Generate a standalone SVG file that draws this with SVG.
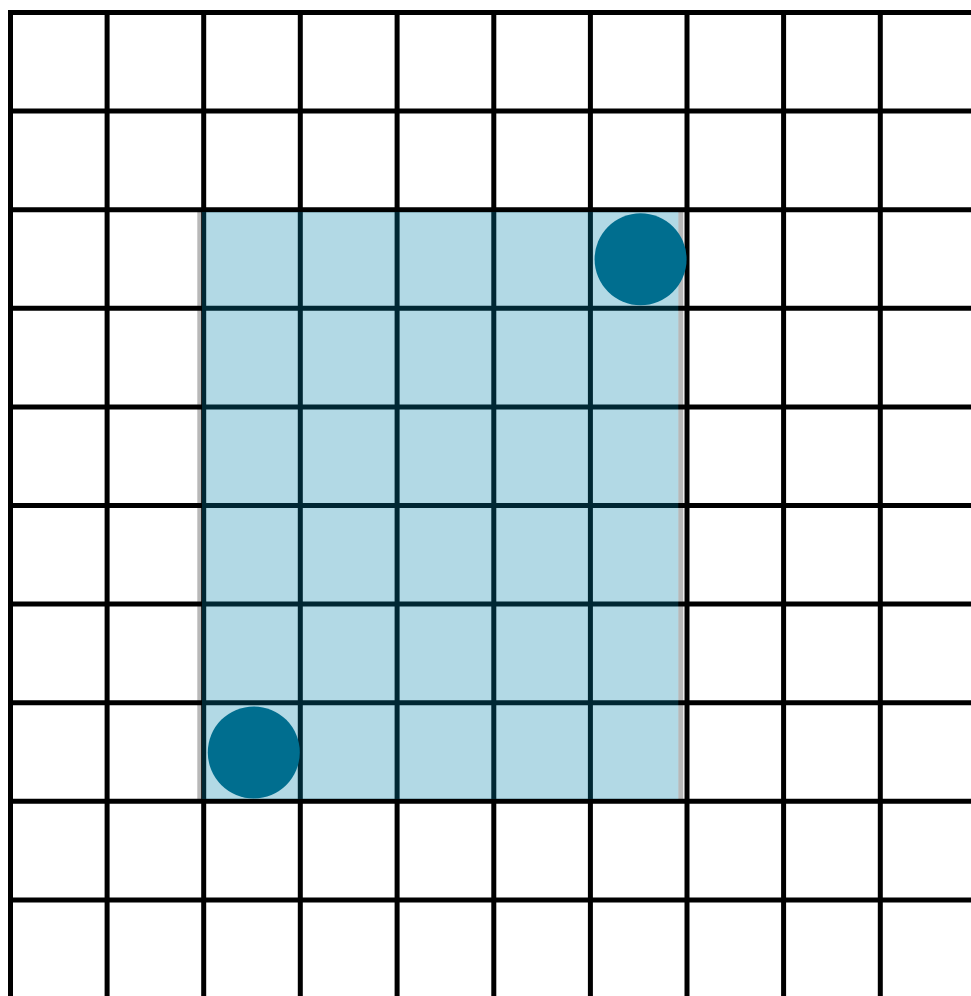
<svg xmlns="http://www.w3.org/2000/svg" width="971" height="996" viewBox="0 0 971 996">
<style>
.g{stroke:#000;stroke-width:5;fill:none}
.edge{fill:#b8b8b8}
.region{fill:#0080aa;fill-opacity:0.3}
.dot{fill:#006e8f}
</style>
<rect x="0" y="0" width="971" height="996" fill="#fff"/>
<g id="region-edges">
<rect class="edge" x="197.3" y="212" width="4.7" height="587"/>
<rect class="edge" x="678.3" y="212" width="5" height="587"/>
</g>
<g id="grid" class="g">
<path d="M8 12.5H971M8 111.1H971M8 209.7H971M8 308.3H971M8 406.9H971M8 505.5H971M8 604.1H971M8 702.7H971M8 801.3H971M8 899.9H971"/>
<path d="M10.5 10V996M107.1 10V996M203.7 10V996M300.3 10V996M397.1 10V996M493.8 10V996M590.4 10V996M687 10V996M783.6 10V996M880.3 10V996"/>
</g>
<g id="region">
<rect class="region" x="202" y="212" width="476.3" height="587"/>
</g>
<g id="point-a">
<circle class="dot" cx="640.6" cy="259.2" r="46"/>
</g>
<g id="point-b">
<circle class="dot" cx="253.8" cy="752.4" r="46"/>
</g>
</svg>
